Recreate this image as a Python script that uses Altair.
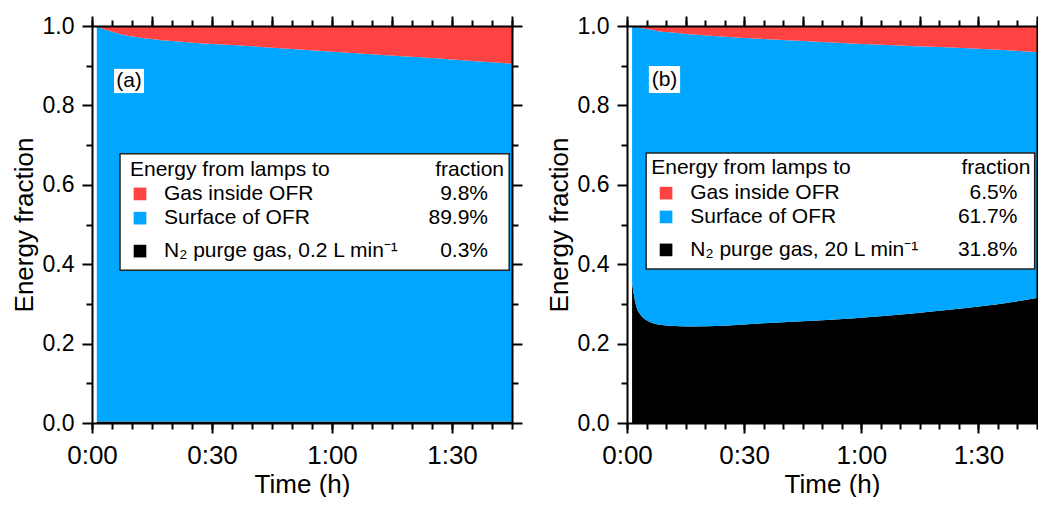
import altair as alt
import pandas as pd

# ---------------- data ----------------
# time in minutes
time_a = [1.2, 3, 7, 15, 25, 35, 50, 65, 82, 95, 105]
gas_a = [0.001, 0.008, 0.020, 0.033, 0.042, 0.048, 0.058, 0.068, 0.079, 0.088, 0.095]
surface_a = [0.995, 0.988, 0.976, 0.963, 0.954, 0.948, 0.938, 0.928, 0.917, 0.908, 0.901]
n2_a = [0.004, 0.004, 0.004, 0.004, 0.004, 0.004, 0.004, 0.004, 0.004, 0.004, 0.004]

time_b = [1.3, 2, 2.5, 3.5, 4.5, 6, 8, 11, 16, 25, 35, 50, 65, 80, 95, 107]
gas_b = [0.000, 0.002, 0.003, 0.005, 0.007, 0.009, 0.013, 0.016, 0.021, 0.027, 0.033,
         0.040, 0.047, 0.053, 0.060, 0.067]
surface_b = [0.647, 0.688, 0.707, 0.723, 0.731, 0.737, 0.739, 0.739, 0.736, 0.728, 0.716,
             0.701, 0.684, 0.664, 0.641, 0.615]
n2_b = [0.353, 0.310, 0.290, 0.272, 0.262, 0.254, 0.248, 0.245, 0.243, 0.245, 0.251,
        0.259, 0.269, 0.283, 0.299, 0.318]

components = ["N2", "Surface", "Gas"]
component_colors = ["#000000", "#00A6FF", "#FF4242"]

legend_header = "Energy from lamps to"
legend_header_right = "fraction"
legend_labels_a = ["Gas inside OFR", "Surface of OFR", "N\u2082 purge gas, 0.2 L min\u207b\u00b9"]
legend_values_a = ["9.8%", "89.9%", "0.3%"]
legend_labels_b = ["Gas inside OFR", "Surface of OFR", "N\u2082 purge gas, 20 L min\u207b\u00b9"]
legend_values_b = ["6.5%", "61.7%", "31.8%"]
legend_colors = ["#FF4242", "#00A6FF", "#000000"]

x_major_ticks = [0, 30, 60, 90]
x_top_major_ticks = [0, 15, 30, 45, 60, 75, 90, 105]
x_minor_ticks = [0, 5, 10, 15, 20, 25, 30, 35, 40, 45, 50, 55, 60, 65, 70, 75, 80, 85, 90, 95, 100, 105]
x_tick_labels = ["0:00", "0:30", "1:00", "1:30"]
y_major_ticks = [0.0, 0.2, 0.4, 0.6, 0.8, 1.0]
y_minor_ticks = [0.1, 0.3, 0.5, 0.7, 0.9]

FONT = "Liberation Sans"


def long_frame(t, gas, surf, n2):
    rows = []
    for k, (name, series) in enumerate(zip(components, [n2, surf, gas])):
        for ti, v in zip(t, series):
            rows.append({"t": ti, "f": v, "c": name, "k": k})
    return pd.DataFrame(rows)


def label_expr(values, labels):
    parts = [f"datum.value === {v} ? '{s}'" for v, s in zip(values, labels)]
    return " : ".join(parts) + " : ''"


def make_panel(t, gas, surf, n2, xmax, width, tag, labels, values, pos, right_ticks=True):
    xs = alt.Scale(domain=[0, xmax], nice=False, zero=False)
    ys = alt.Scale(domain=[0, 1], nice=False, zero=False)

    x_bottom = alt.Axis(
        orient="bottom", values=x_major_ticks, labelExpr=label_expr(x_major_ticks, x_tick_labels),
        tickSize=10, labelFontSize=26, titleFontSize=26, labelPadding=9, titlePadding=3,
        grid=False, title="Time (h)", labelFlush=False, labelOverlap=False, zindex=1,
    )
    x_bottom_minor = alt.Axis(
        orient="bottom", values=x_minor_ticks, labels=False, tickSize=6, grid=False,
        title="", domain=False, zindex=1,
    )
    y_left = alt.Axis(
        orient="left", values=y_major_ticks, format=".1f",
        tickSize=10, labelFontSize=23, titleFontSize=26, labelPadding=8, titlePadding=5,
        grid=False, title="Energy fraction", labelFlush=False, labelOverlap=False, zindex=1,
    )
    y_left_minor = alt.Axis(
        orient="left", values=y_minor_ticks, labels=False, tickSize=6, grid=False,
        title="", domain=False, zindex=1,
    )
    x_top = alt.Axis(
        orient="top", values=x_top_major_ticks, labels=False, tickSize=10, grid=False,
        title="", zindex=1,
    )
    x_top_minor = alt.Axis(
        orient="top", values=x_minor_ticks, labels=False, tickSize=6, grid=False,
        title="", domain=False, zindex=1,
    )
    if right_ticks:
        y_right = alt.Axis(orient="right", values=y_major_ticks, labels=False, tickSize=10,
                           grid=False, title="", zindex=1)
        y_right_minor = alt.Axis(orient="right", values=y_minor_ticks, labels=False, tickSize=6,
                                 grid=False, title="", domain=False, zindex=1)
    else:
        y_right = alt.Axis(orient="right", labels=False, ticks=False, grid=False, title="", zindex=1)
        y_right_minor = alt.Axis(orient="right", labels=False, ticks=False, grid=False,
                                 title="", domain=False, zindex=1)

    areas = alt.Chart(long_frame(t, gas, surf, n2)).mark_area(
        interpolate="monotone", clip=True
    ).encode(
        x=alt.X("t:Q", scale=xs, axis=x_bottom),
        y=alt.Y("f:Q", stack="zero", scale=ys, axis=y_left),
        color=alt.Color("c:N", scale=alt.Scale(domain=components, range=component_colors), legend=None),
        order=alt.Order("k:Q"),
    )

    # legend box (annotation placed in data coordinates)
    box = alt.Chart(pd.DataFrame([{"x0": pos["box"][0], "x1": pos["box"][1],
                                   "y0": pos["box"][2], "y1": pos["box"][3]}])).mark_rect(
        fill="white", stroke="#222222", strokeWidth=1.5
    ).encode(
        x=alt.X("x0:Q", scale=xs, axis=x_top), x2="x1:Q",
        y=alt.Y("y0:Q", scale=ys, axis=y_right), y2="y1:Q",
    )

    tagbox = alt.Chart(pd.DataFrame([{"x0": pos["tagbox"][0], "x1": pos["tagbox"][1],
                                      "y0": pos["tagbox"][2], "y1": pos["tagbox"][3]}])).mark_rect(
        fill="white"
    ).encode(
        x=alt.X("x0:Q", scale=xs, axis=x_bottom_minor), x2="x1:Q",
        y=alt.Y("y0:Q", scale=ys, axis=y_left_minor), y2="y1:Q",
    )
    tagtext = alt.Chart(pd.DataFrame([{"x": pos["tag"][0], "y": pos["tag"][1], "s": tag}])).mark_text(
        font=FONT, fontSize=21, color="black", align="center", baseline="middle"
    ).encode(
        x=alt.X("x:Q", scale=xs, axis=x_top_minor),
        y=alt.Y("y:Q", scale=ys, axis=y_right_minor), text="s:N"
    )

    header = pd.DataFrame([{"x": pos["hdr_l"], "y": pos["rows"][0], "s": legend_header}])
    header_r = pd.DataFrame([{"x": pos["hdr_r"], "y": pos["rows"][0], "s": legend_header_right}])
    rows = pd.DataFrame({
        "y": pos["rows"][1:],
        "label": labels,
        "value": values,
        "color": legend_colors,
    })
    rows["xs"] = pos["sq"]
    rows["xl"] = pos["lab"]
    rows["xv"] = pos["val"]

    txt_kw = dict(font=FONT, fontSize=21, color="black", baseline="middle")
    h1 = alt.Chart(header).mark_text(align="left", **txt_kw).encode(
        x=alt.X("x:Q", scale=xs, axis=None), y=alt.Y("y:Q", scale=ys, axis=None), text="s:N")
    h2 = alt.Chart(header_r).mark_text(align="right", **txt_kw).encode(
        x=alt.X("x:Q", scale=xs, axis=None), y=alt.Y("y:Q", scale=ys, axis=None), text="s:N")
    squares = alt.Chart(rows).mark_square(size=160, opacity=1).encode(
        x=alt.X("xs:Q", scale=xs, axis=None), y=alt.Y("y:Q", scale=ys, axis=None),
        color=alt.Color("color:N", scale=None),
    )
    lab = alt.Chart(rows).mark_text(align="left", **txt_kw).encode(
        x=alt.X("xl:Q", scale=xs, axis=None), y=alt.Y("y:Q", scale=ys, axis=None), text="label:N")
    val = alt.Chart(rows).mark_text(align="right", **txt_kw).encode(
        x=alt.X("xv:Q", scale=xs, axis=None), y=alt.Y("y:Q", scale=ys, axis=None), text="value:N")

    return alt.layer(areas, box, tagbox, tagtext, h1, h2, squares, lab, val).resolve_axis(
        x="independent", y="independent"
    ).properties(width=width, height=397)


pos_a = {
    "box": [7.0, 104.3, 0.385, 0.678],
    "tagbox": [5.5, 13.0, 0.831, 0.892],
    "tag": [9.25, 0.862],
    "hdr_l": 9.5, "hdr_r": 103.0,
    "rows": [0.637, 0.577, 0.516, 0.433],
    "sq": 12.0, "lab": 18.0, "val": 99.0,
}
pos_b = {
    "box": [4.9, 104.4, 0.388, 0.680],
    "tagbox": [5.6, 13.6, 0.831, 0.899],
    "tag": [9.6, 0.865],
    "hdr_l": 6.2, "hdr_r": 103.3,
    "rows": [0.642, 0.579, 0.519, 0.436],
    "sq": 10.0, "lab": 16.2, "val": 100.0,
}

panel_a = make_panel(time_a, gas_a, surface_a, n2_a, 105, 420, "(a)",
                     legend_labels_a, legend_values_a, pos_a)
panel_b = make_panel(time_b, gas_b, surface_b, n2_b, 105, 410, "(b)",
                     legend_labels_b, legend_values_b, pos_b, right_ticks=False)

chart = alt.hconcat(panel_a, panel_b, spacing=23).properties(
    padding={"left": 3, "top": 7, "right": 0, "bottom": 0}
).configure_view(stroke=None).configure_axis(
    domainColor="black", domainWidth=2, tickColor="black", tickWidth=2,
    labelColor="black", titleColor="black", labelFont=FONT, titleFont=FONT,
    titleFontWeight="normal",
)

chart.save("out.html", embed_options={"renderer": "svg", "actions": False})
